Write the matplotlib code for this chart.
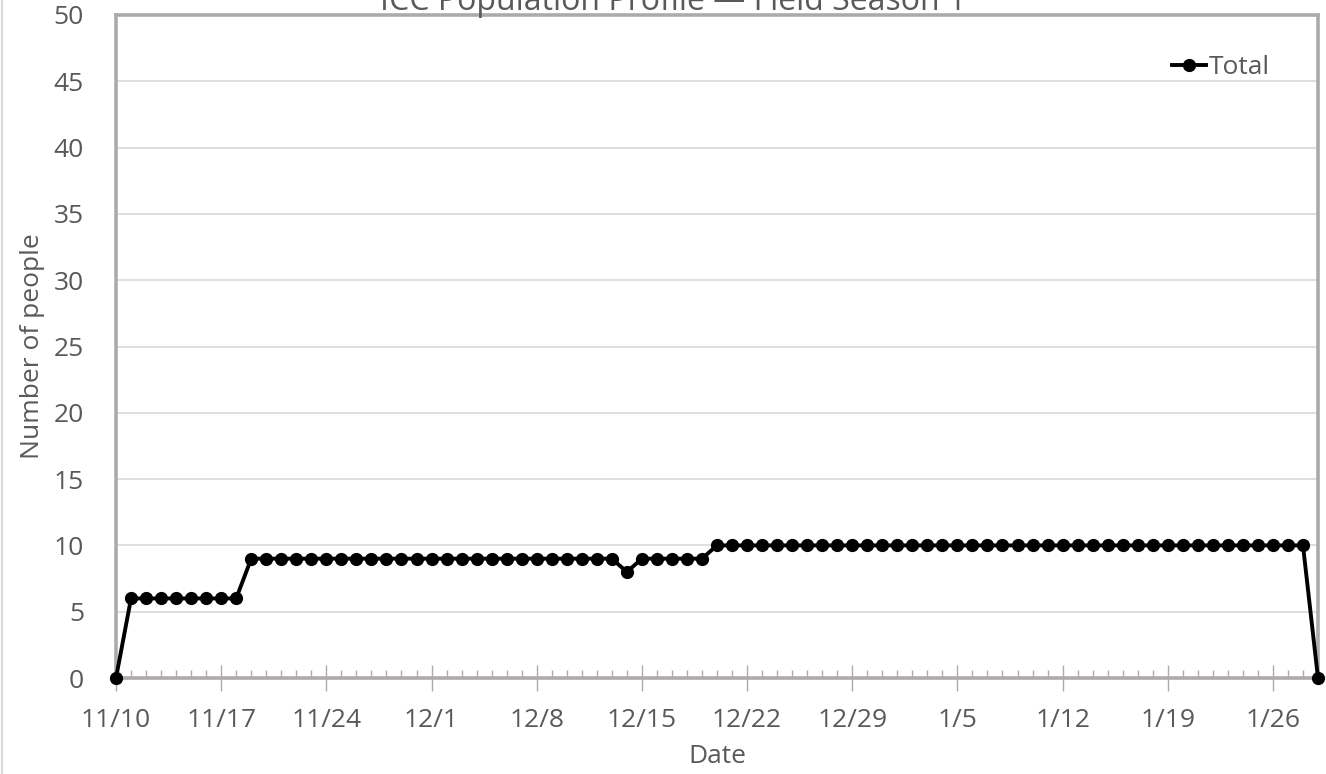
import matplotlib
matplotlib.use('Agg')
import matplotlib.pyplot as plt
import matplotlib.dates as mdates
from matplotlib.ticker import FuncFormatter, MultipleLocator
from matplotlib.lines import Line2D
import pandas as pd

plt.rcParams['font.family'] = ['Open Sans', 'DejaVu Sans']

# daily head count, one value per day from 11/10
start_date = '2018-11-10'
total = [0,
         6, 6, 6, 6, 6, 6, 6, 6,
         9, 9, 9, 9, 9, 9, 9, 9, 9, 9, 9, 9, 9, 9, 9, 9, 9, 9, 9, 9, 9, 9, 9, 9, 9,
         8,
         9, 9, 9, 9, 9,
         10, 10, 10, 10, 10, 10, 10, 10, 10, 10, 10, 10, 10, 10, 10, 10, 10, 10, 10, 10,
         10, 10, 10, 10, 10, 10, 10, 10, 10, 10, 10, 10, 10, 10, 10, 10, 10, 10, 10, 10,
         0]
dates = pd.date_range(start_date, periods=len(total), freq='D')

text_color = '#595959'
axis_gray = '#AEAAAA'
grid_gray = '#D9D9D9'

fig = plt.figure(figsize=(13.26, 7.74), dpi=100)
ax = fig.add_axes([116 / 1326, 96 / 774, 1202 / 1326, 663 / 774])

ax.plot(dates, total, color='black', lw=2.8, marker='o', ms=8.5,
        label='Total', clip_on=False, zorder=5)

ax.set_xlim(dates[0], dates[-1])
ax.set_ylim(0, 50)
ax.yaxis.set_major_locator(MultipleLocator(5))
ax.grid(axis='y', color=grid_gray, lw=1.2)
ax.set_axisbelow(True)

# weekly labels, a small tick for every day
ax.set_xticks(dates[::7])
ax.xaxis.set_minor_locator(mdates.DayLocator())
ax.xaxis.set_major_formatter(FuncFormatter(
    lambda x, pos: f"{mdates.num2date(x).month}/{mdates.num2date(x).day}"))

for side in ['left', 'right', 'top', 'bottom']:
    ax.spines[side].set_color(axis_gray)
    ax.spines[side].set_linewidth(2.6)

ax.tick_params(axis='x', which='major', direction='inout', length=19, width=1,
               color=axis_gray, labelsize=19, labelcolor=text_color, pad=12)
ax.tick_params(axis='x', which='minor', direction='in', length=6, width=1,
               color=axis_gray)
ax.tick_params(axis='y', length=0, labelsize=19, labelcolor=text_color, pad=23)

ax.set_xlabel('Date', fontsize=19, color=text_color, labelpad=8)
ax.set_ylabel('Number of people', fontsize=19, color=text_color, labelpad=6)

ax.legend(loc='center left', bbox_to_anchor=(1172 / 1326, 1 - 68 / 774),
          bbox_transform=fig.transFigure, frameon=False, fontsize=19,
          borderpad=0, borderaxespad=0, handlelength=1.3, handletextpad=0.1,
          labelcolor=text_color)

fig.text(673 / 1326, 1 - 10 / 774, 'ICC Population Profile \u2014 Field Season 1',
         ha='center', va='baseline', fontsize=23, color=text_color)

fig.add_artist(Line2D([2 / 1326, 2 / 1326], [0, 1], color=grid_gray, lw=1.5,
                      transform=fig.transFigure))

fig.savefig('out.png', dpi=100)
